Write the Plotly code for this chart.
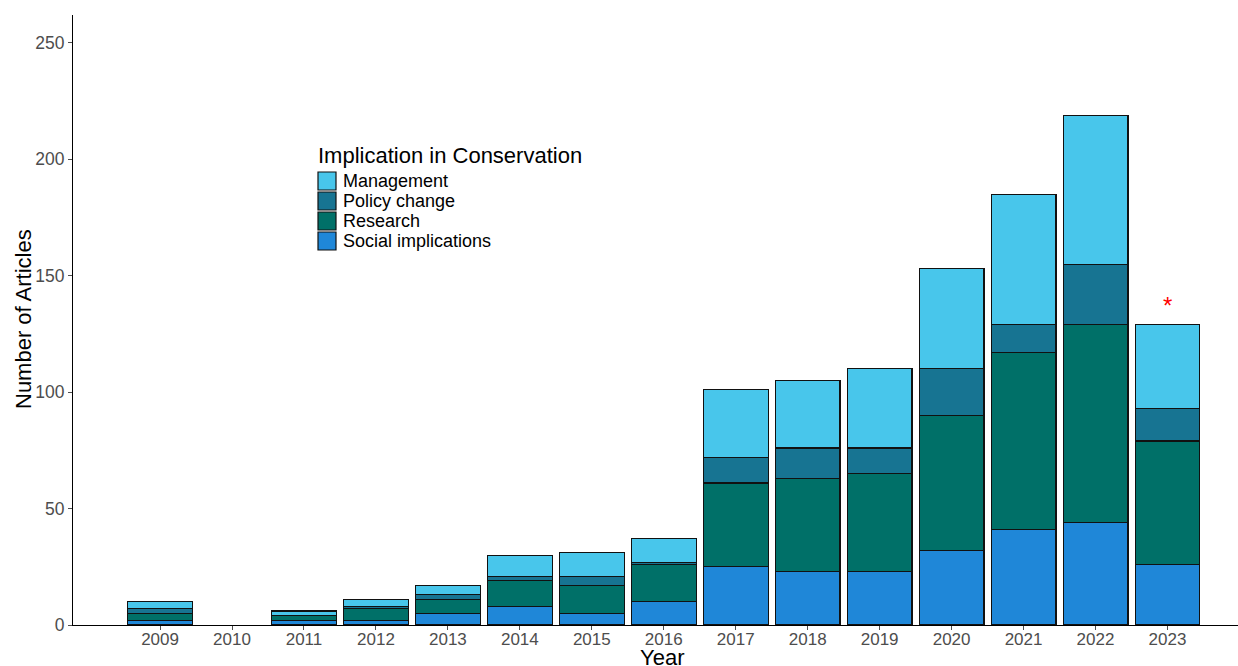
import plotly.graph_objects as go

years = ["2009", "2010", "2011", "2012", "2013", "2014", "2015", "2016",
         "2017", "2018", "2019", "2020", "2021", "2022", "2023"]
social = [2, 0, 2, 2, 5, 8, 5, 10, 25, 23, 23, 32, 41, 44, 26]
research = [3, 0, 2, 5, 6, 11, 12, 16, 36, 40, 42, 58, 76, 85, 53]
policy = [2, 0, 0, 1, 2, 2, 4, 1, 11, 13, 11, 20, 12, 26, 14]
management = [3, 0, 2, 3, 4, 9, 10, 10, 29, 29, 34, 43, 56, 64, 36]
flag_year = "2023"
flag_text = "*"

series = [
    ("Social implications", social, "#1F87D8"),
    ("Research", research, "#007068"),
    ("Policy change", policy, "#177492"),
    ("Management", management, "#48C6EB"),
]

font_family = "Liberation Sans, Arial, sans-serif"
W, H = 1238, 666
ML, MR, MT, MB = 73, 0, 15, 41
PW, PH = W - ML - MR, H - MT - MB


def px(x):
    return (x - ML) / PW


def py(y):
    return (H - MB - y) / PH


fig = go.Figure()
for name, vals, color in series:
    fig.add_trace(go.Bar(
        x=years, y=[v if v else None for v in vals], name=name,
        marker=dict(color=color, line=dict(color="#111111", width=1.2)),
        width=0.9, showlegend=False,
    ))

totals = [s + r + p + m for s, r, p, m in zip(social, research, policy, management)]
fi = years.index(flag_year)

shapes = []
annotations = []
annotations.append(dict(xref="x", yref="y", x=fi, y=totals[fi],
                        xanchor="center", yanchor="bottom", yshift=4,
                        showarrow=False, text=flag_text,
                        font=dict(color="red", size=24, family=font_family)))
# custom legend (layout only)
annotations.append(dict(xref="paper", yref="paper", x=px(316), y=py(155),
                        xanchor="left", yanchor="middle", showarrow=False,
                        text="Implication in Conservation",
                        font=dict(size=22, color="black", family=font_family)))
legend_items = list(reversed(series))
for i, (name, _, color) in enumerate(legend_items):
    cy = 181 + 20 * i
    shapes.append(dict(type="rect", xref="paper", yref="paper",
                       x0=px(318), x1=px(336), y0=py(cy - 9), y1=py(cy + 9),
                       fillcolor=color, line=dict(color="#111111", width=1.2)))
    annotations.append(dict(xref="paper", yref="paper", x=px(341), y=py(cy),
                            xanchor="left", yanchor="middle", showarrow=False,
                            text=name,
                            font=dict(size=18, color="black", family=font_family)))
# axis titles
annotations.append(dict(xref="paper", yref="paper", x=px(662), y=py(657),
                        xanchor="center", yanchor="middle", showarrow=False,
                        text="Year", font=dict(size=22, color="black", family=font_family)))
annotations.append(dict(xref="paper", yref="paper", x=px(23), y=py(319),
                        xanchor="center", yanchor="middle", showarrow=False,
                        textangle=-90, text="Number of Articles",
                        font=dict(size=22, color="black", family=font_family)))

fig.update_layout(
    barmode="stack",
    width=W, height=H,
    margin=dict(l=ML, r=MR, t=MT, b=MB, autoexpand=False),
    paper_bgcolor="white", plot_bgcolor="white",
    font=dict(family=font_family, color="black"),
    showlegend=False,
    bargap=0.1,
    shapes=shapes,
    annotations=annotations,
)
fig.update_xaxes(
    type="category", range=[-1.21, 14.98],
    showline=True, linecolor="black", linewidth=1.2,
    ticks="outside", ticklen=4, tickcolor="#4d4d4d",
    tickfont=dict(size=17, color="#4d4d4d"),
    ticklabelstandoff=-6,
    automargin=False,
    showgrid=False, zeroline=False,
)
fig.update_yaxes(
    range=[0, 262], tickvals=[0, 50, 100, 150, 200, 250],
    showline=True, linecolor="black", linewidth=1.2,
    ticks="outside", ticklen=4, tickcolor="#4d4d4d",
    tickfont=dict(size=17.5, color="#4d4d4d"),
    automargin=False,
    showgrid=False, zeroline=False,
)

fig.write_html("out.html")
